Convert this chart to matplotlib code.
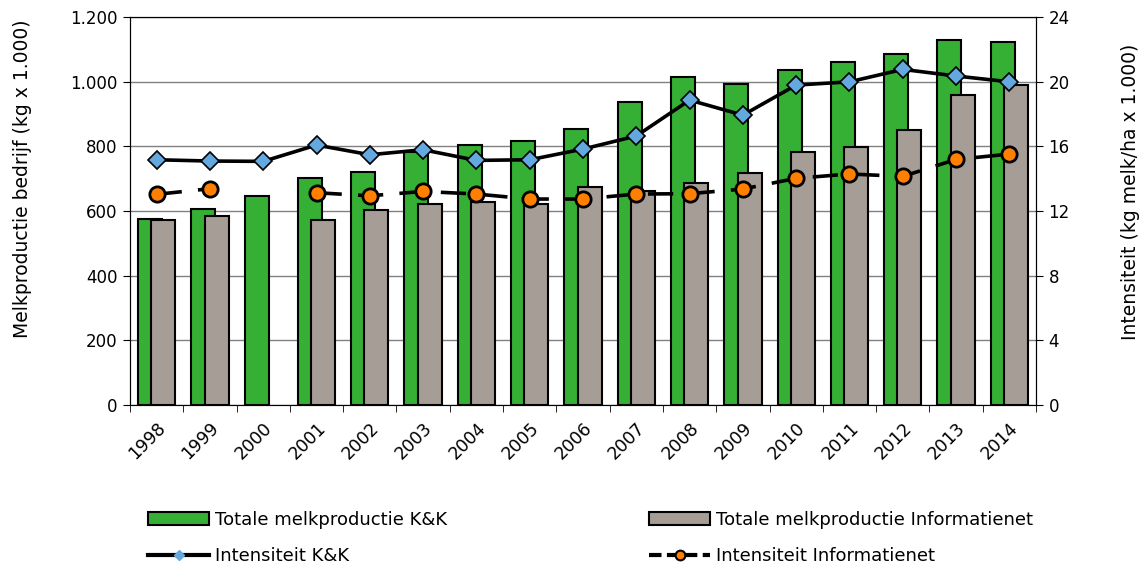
import numpy as np
import matplotlib
matplotlib.use("Agg")
import matplotlib.pyplot as plt
from matplotlib.patches import Patch
from matplotlib.lines import Line2D

years = [str(y) for y in range(1998, 2015)]

# totale melkproductie (kg x 1.000)
prod_kk = [575, 606, 647, 703, 722, 783, 803, 815, 853, 938, 1014, 993, 1036, 1060, 1085, 1129, 1122]
prod_info = [573, 585, np.nan, 573, 603, 622, 629, 621, 674, 662, 687, 716, 781, 798, 851, 959, 990]

# intensiteit (kg melk/ha x 1.000)
int_kk = [15.17, 15.09, 15.07, 16.08, 15.48, 15.79, 15.13, 15.17, 15.83, 16.64, 18.86, 17.93, 19.79, 19.99, 20.76, 20.35, 19.99]
int_info = [13.03, 13.38, np.nan, 13.13, 12.94, 13.21, 13.05, 12.74, 12.74, 13.05, 13.07, 13.36, 14.02, 14.29, 14.14, 15.19, 15.52]

green = "#35b035"
grey = "#a59d96"
blue = "#64a8e0"
orange = "#ff7f00"

fig = plt.figure(figsize=(11.45, 5.67), dpi=100)
ax = fig.add_axes([130 / 1145, 1 - 405 / 567, (1036 - 130) / 1145, (405 - 17) / 567])
ax2 = ax.twinx()

x = np.arange(len(years))
w = 0.45
ax.bar(x - 0.125, prod_kk, w, color=green, edgecolor="black", linewidth=1.5, zorder=2)
ax.bar(x + 0.125, prod_info, w, color=grey, edgecolor="black", linewidth=1.5, zorder=3)

ax2.plot(x, int_kk, color="black", lw=2.6, marker="D", ms=9, mfc=blue, mec="black", mew=1.2, zorder=4)
ln, = ax2.plot(x, int_info, color="black", lw=2.6, marker="o", ms=11, mfc=orange, mec="black", mew=2, zorder=4)
ln.set_dashes((7, 4.5))

ax.set_xlim(-0.5, len(years) - 0.5)
ax.set_ylim(0, 1200)
ax2.set_ylim(0, 24)
ax.set_yticks(range(0, 1201, 200))
ax.set_yticklabels(["0", "200", "400", "600", "800", "1.000", "1.200"], fontsize=12)
ax2.set_yticks(range(0, 25, 4))
ax2.set_yticklabels([str(v) for v in range(0, 25, 4)], fontsize=12)

ax.set_xticks(x)
ax.set_xticklabels(years, rotation=45, ha="right", va="top", rotation_mode="anchor", fontsize=12.5)
ax.tick_params(axis="x", which="major", length=0, pad=10)
ax.set_xticks(np.arange(-0.5, len(years), 1), minor=True)
ax.tick_params(axis="x", which="minor", length=5, direction="out")
ax.tick_params(axis="y", length=5, direction="out", pad=4)
ax2.tick_params(axis="y", length=5, direction="out", pad=4)

ax.grid(axis="y", color="#808080", lw=1, zorder=0)
ax.set_axisbelow(True)
for s in ax.spines.values():
    s.set_color("black")
ax.spines["bottom"].set_color("#808080")

ax.set_ylabel("Melkproductie bedrijf (kg x 1.000)", fontsize=13.5)
ax.yaxis.set_label_coords(-0.108, 0.582)
ax2.set_ylabel("Intensiteit (kg melk/ha x 1.000)", fontsize=13.5)
ax2.yaxis.set_label_coords(1.094, 0.549)

# legend in two columns
h_kk_bar = Patch(facecolor=green, edgecolor="black", linewidth=1.5)
h_info_bar = Patch(facecolor=grey, edgecolor="black", linewidth=1.5)
h_kk_line = Line2D([], [], color="black", lw=3, marker="D", ms=5, mfc=blue, mec=blue)
h_info_line = Line2D([], [], color="black", lw=3, marker="o", ms=7, mfc=orange, mec="black", mew=1.5)
h_info_line.set_dashes((3, 1.3))

opts = dict(frameon=False, fontsize=13, handlelength=3.4, handleheight=0.7, handletextpad=0.3,
            borderpad=0, borderaxespad=0, labelspacing=1.0, loc="center left")
fig.legend([h_kk_bar, h_kk_line], ["Totale melkproductie K&K", "Intensiteit K&K"],
           bbox_to_anchor=(148 / 1145, 1 - 538 / 567), **opts)
fig.legend([h_info_bar, h_info_line], ["Totale melkproductie Informatienet", "Intensiteit Informatienet"],
           bbox_to_anchor=(649 / 1145, 1 - 538 / 567), **opts)

fig.savefig("out.png", dpi=100)
